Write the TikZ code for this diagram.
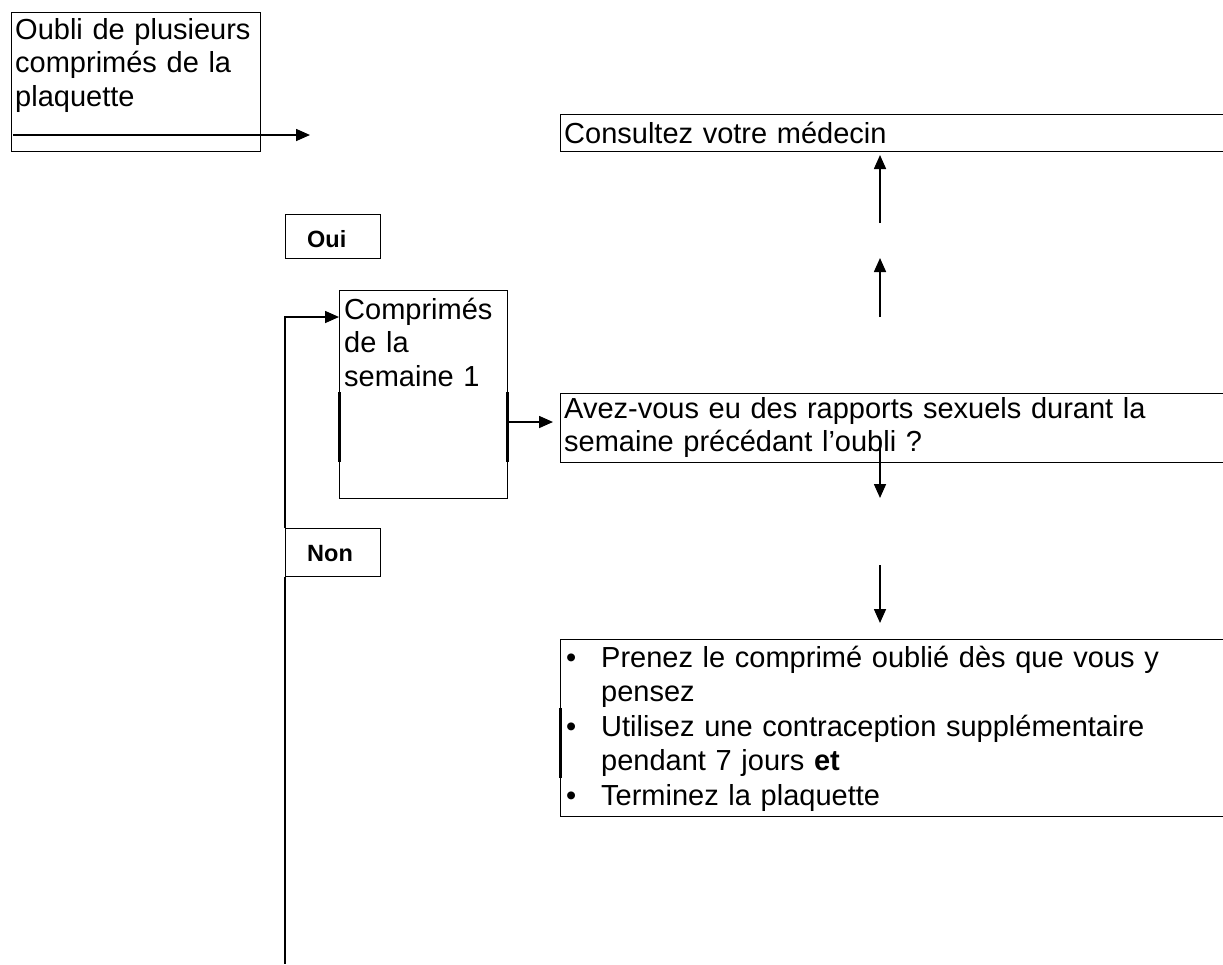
\documentclass[tikz,border=0pt]{standalone}
\usepackage{fontspec}
\setmainfont{Liberation Sans}
\usetikzlibrary{arrows.meta}
\newcommand\taille{\fontsize{29}{33.5}\selectfont}
\newcommand\tailleliste{\fontsize{29}{34.5}\selectfont}

\begin{document}
\begin{tikzpicture}[x=1pt,y=-1pt,
    cadre/.style={draw, line width=1.4pt, anchor=north west, inner sep=0pt},
    texte/.style={anchor=base west, inner sep=0pt, align=left, text width=#1, font=\taille},
    texte/.default=300pt,
    choix/.style={anchor=base west, inner sep=0pt, font=\fontsize{23.5}{27}\selectfont\bfseries},
    fleche/.style={line width=1.6pt, -{Triangle[length=14pt,width=12pt]}},
    trait/.style={line width=1.6pt},
    epais/.style={line width=3pt}]
        \useasboundingbox (0,0) rectangle (1223,964);
        \clip (0,0) rectangle (1223,964);
        % boites
        \node[cadre, minimum width=249, minimum height=139] (oubli) at (11,12) {};
        \node[cadre, minimum width=700, minimum height=37] (medecin) at (560,114) {};
        \node[cadre, minimum width=95, minimum height=44] (oui) at (285,214) {};
        \node[cadre, minimum width=168, minimum height=208] (semaine) at (339,290) {};
        \node[cadre, minimum width=700, minimum height=69] (rapports) at (560,393) {};
        \node[cadre, minimum width=95, minimum height=48] (non) at (285,528) {};
        \node[cadre, minimum width=700, minimum height=177] (consignes) at (560,639) {};
        % textes
        \node[texte=245pt] (oubli-txt) at (15,39) {Oubli de plusieurs\\comprimés de la\\plaquette};
        \node[texte=640pt] (medecin-txt) at (564,143) {Consultez votre médecin};
        \node[choix] (oui-txt) at (307,247) {Oui};
        \node[choix] (non-txt) at (307,561) {Non};
        \node[texte=160pt] (semaine-txt) at (344,319) {Comprimés\\de la\\semaine 1};
        \node[texte=640pt] (rapports-txt) at (564,418) {Avez-vous eu des rapports sexuels durant la\\semaine précédant l’oubli ?};
        \node[texte=640pt, font=\tailleliste] (consignes-txt) at (566,667) {%
            \makebox[35pt][l]{•}Prenez le comprimé oublié dès que vous y\\
            \hspace*{35pt}pensez\\
            \makebox[35pt][l]{•}Utilisez une contraception supplémentaire\\
            \hspace*{35pt}pendant 7 jours \textbf{et}\\
            \makebox[35pt][l]{•}Terminez la plaquette};
        % bords plus epais
        \draw[epais] (339,392) -- (339,462);
        \draw[epais] (507,392) -- (507,462);
        \draw[epais] (560,708) -- (560,778);
        % fleches
        \coordinate (oubli-depart) at (13,135);
        \coordinate (oubli-fin) at (310,135);
        \draw[fleche] (oubli-depart) -- (oubli-fin);
        \coordinate (haut1-bas) at (880,223);
        \coordinate (haut1-haut) at (880,155);
        \draw[fleche] (haut1-bas) -- (haut1-haut);
        \coordinate (haut2-bas) at (880,317);
        \coordinate (haut2-haut) at (880,258);
        \draw[fleche] (haut2-bas) -- (haut2-haut);
        \coordinate (semaine-entree) at (339,317);
        \draw[fleche] (non.north west) |- (semaine-entree);
        \coordinate (bas) at (285,964);
        \draw[trait] (non.south west) -- (bas);
        \coordinate (semaine-sortie) at (507,422);
        \coordinate (rapports-entree) at (553,422);
        \draw[fleche] (semaine-sortie) -- (rapports-entree);
        \coordinate (bas1-haut) at (880,440);
        \coordinate (bas1-bas) at (880,498);
        \draw[fleche] (bas1-haut) -- (bas1-bas);
        \coordinate (bas2-haut) at (880,565);
        \coordinate (bas2-bas) at (880,623);
        \draw[fleche] (bas2-haut) -- (bas2-bas);
    \end{tikzpicture}
\end{document}
